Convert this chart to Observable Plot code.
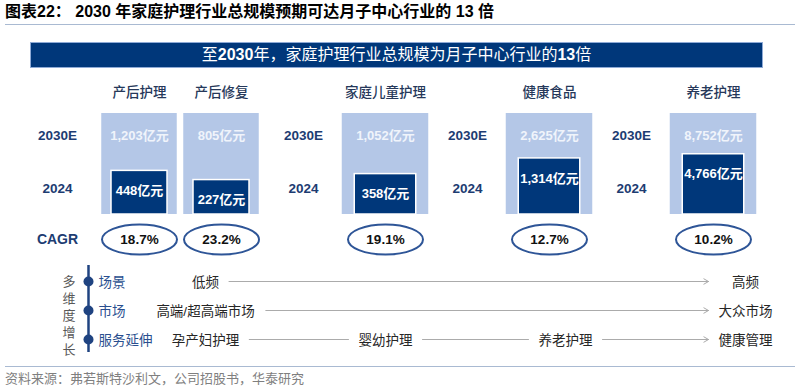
<!DOCTYPE html>
<html><head><meta charset="utf-8">
<script src="https://cdn.jsdelivr.net/npm/d3@7"></script>
<script src="https://cdn.jsdelivr.net/npm/@observablehq/plot@0.6"></script>
<style>
body{margin:0;width:800px;height:392px;overflow:hidden;background:#fff;font-family:"Liberation Sans","Noto Sans CJK SC",sans-serif;position:relative}
#title{position:absolute;left:5px;top:0;width:790px;height:24px;font-size:16px;font-weight:bold;line-height:24px;border-bottom:1.5px solid #a9bad2;color:#000;white-space:nowrap}
#banner{position:absolute;left:30px;top:42px;width:731px;height:24px;background:#00377a;border:1px solid #8eaad6;color:#fff;font-size:16px;line-height:24px;text-align:center;white-space:nowrap}
#banner b{font-weight:bold}
#p1{position:absolute;left:0;top:70px}
#p2{position:absolute;left:0;top:258px}
#cap{position:absolute;left:5px;top:366px;width:790px;border-top:1.5px solid #a9bad2;font-size:13px;color:#7f7f7f;line-height:24px;white-space:nowrap}
</style></head>
<body>
<div id="title">图表22：&nbsp;2030 年家庭护理行业总规模预期可达月子中心行业的 13 倍</div>
<div id="banner">至<b>2030</b>年，家庭护理行业总规模为月子中心行业的<b>13</b>倍</div>
<div id="p1"></div>
<div id="p2"></div>
<div id="cap">资料来源：弗若斯特沙利文，公司招股书，华泰研究</div>
<script>
// ---- data ----
const categories = ["产后护理", "产后修复", "家庭儿童护理", "健康食品", "养老护理"];
const value2030E = [1203, 805, 1052, 2625, 8752];
const value2024 = [448, 227, 358, 1314, 4766];
const cagrPct = [18.7, 23.2, 19.1, 12.7, 10.2];
const yearLabels = ["2030E", "2024"];
const cagrLabel = "CAGR";
const growthTitle = "多维度增长";
const growthDims = ["场景", "市场", "服务延伸"];
const scenePath = ["低频", "高频"];
const marketPath = ["高端/超高端市场", "大众市场"];
const servicePath = ["孕产妇护理", "婴幼护理", "养老护理", "健康管理"];

// ---- styling ----
const NAVY = "#00377a", LIGHT = "#b4c7e7", LABEL = "#1d3c72", RING = "#2e5597", RAIL = "#1f4381";
const FONT = '"Liberation Sans","Noto Sans CJK SC",sans-serif';
const fmt = d3.format(",");

const rows = categories.map((cat, i) => ({
  cat, v2030: value2030E[i], v2024: value2024[i],
  share: value2024[i] / value2030E[i], cagr: cagrPct[i]
}));
// layout slots: a row-label column before each group of boxes
const slots = ["g0", categories[0], categories[1], "g1", categories[2], "g2", categories[3], "g3", categories[4]];
const labelSlots = ["g0", "g1", "g2", "g3"];
const paired = rows.slice(0, 2), single = rows.slice(2);

// ellipse symbol for the CAGR rings
const ellipse = {
  draw(ctx, size) {
    const ry = Math.sqrt(size / Math.PI), rx = ry * 2.5, k = 0.5523;
    ctx.moveTo(rx, 0);
    ctx.bezierCurveTo(rx, ry * k, rx * k, ry, 0, ry);
    ctx.bezierCurveTo(-rx * k, ry, -rx, ry * k, -rx, 0);
    ctx.bezierCurveTo(-rx, -ry * k, -rx * k, -ry, 0, -ry);
    ctx.bezierCurveTo(rx * k, -ry, rx, -ry * k, rx, 0);
    ctx.closePath();
  }
};

const p1 = Plot.plot({
  width: 800, height: 188, margin: 0,
  style: {fontFamily: FONT, fontSize: "13px", overflow: "visible", background: "transparent"},
  x: {type: "band", domain: slots, range: [13.75, 756.25], padding: 0, axis: null},
  y: {type: "pow", exponent: 0.85, domain: [0, 1], range: [144, 43], axis: null},
  marks: [
    Plot.barY(paired, {x: "cat", y1: 0, y2: 1, fill: LIGHT, insetLeft: 3.25, insetRight: 3.25}),
    Plot.barY(single, {x: "cat", y1: 0, y2: 1, fill: LIGHT, insetLeft: -2.25, insetRight: -2.25}),
    Plot.barY(paired, {x: "cat", y1: 0, y2: "share", fill: NAVY, stroke: "white", strokeWidth: 1.5, insetLeft: 13, insetRight: 13}),
    Plot.barY(single, {x: "cat", y1: 0, y2: "share", fill: NAVY, stroke: "white", strokeWidth: 1.5, insetLeft: 10.25, insetRight: 10.25}),
    Plot.text(rows, {x: "cat", frameAnchor: "top", lineAnchor: "middle", dy: 22, text: "cat", fill: "#26385a", fontSize: 13.5, fontWeight: 500}),
    Plot.text(rows, {x: "cat", y: 1, dy: 22, text: d => fmt(d.v2030) + "亿元", fill: "#f0f4fb", fontWeight: "bold", fontSize: 13}),
    Plot.text(rows, {x: "cat", y: "share", dy: 20, text: d => fmt(d.v2024) + "亿元", fill: "white", fontWeight: "bold", fontSize: 13}),
    Plot.text(labelSlots, {x: d => d, y: 1, dy: 22, text: () => yearLabels[0], fill: LABEL, fontWeight: "bold", fontSize: 13.5}),
    Plot.text(labelSlots, {x: d => d, y: 0, dy: -26, text: () => yearLabels[1], fill: LABEL, fontWeight: "bold", fontSize: 13.5}),
    Plot.text([cagrLabel], {x: () => "g0", y: 0, dy: 25, text: d => d, fill: LABEL, fontWeight: "bold", fontSize: 14}),
    Plot.dot(rows, {x: "cat", y: 0, dy: 25, r: 15, symbol: ellipse, fill: "none", stroke: RING, strokeWidth: 2}),
    Plot.text(rows, {x: "cat", y: 0, dy: 25, text: d => d.cagr.toFixed(1) + "%", fill: "#111", fontWeight: "bold", fontSize: 13.5})
  ]
});
document.getElementById("p1").append(p1);

// ---- multi-dimension growth diagram ----
const paths = [[growthDims[0], scenePath], [growthDims[1], marketPath], [growthDims[2], servicePath]];
const maxStage = d3.max(paths, ([, p]) => p.length - 1);
const stages = paths.flatMap(([row, path]) => path.map((label, i) => ({row, label, stage: i * maxStage / (path.length - 1)})));
const FS = 13.5, GAP = 10;
const textW = s => [...s].reduce((a, c) => a + (c === "/" ? 0.45 : 1), 0) * FS;
const endInset = d3.max(paths, ([, p]) => textW(p[p.length - 1]) / 2) + GAP;
const segments = paths.flatMap(([row, path]) => path.slice(1).map((label, j) => {
  const last = j === path.length - 2;
  return {
    row, x1: j * maxStage / (path.length - 1), x2: (j + 1) * maxStage / (path.length - 1), last,
    insetStart: textW(path[j]) / 2 + GAP,
    insetEnd: last ? endInset : textW(label) / 2 + GAP
  };
}));

const p2 = Plot.plot({
  width: 800, height: 106, margin: 0,
  style: {fontFamily: FONT, fontSize: "13px", overflow: "visible", background: "transparent"},
  x: {domain: [0, maxStage], range: [205, 745], axis: null},
  y: {type: "point", domain: growthDims, range: [23, 81], padding: 0, axis: null},
  marks: [
    Plot.ruleX([0], {dx: -117, insetTop: 7, insetBottom: 12, stroke: RAIL, strokeWidth: 2.5}),
    Plot.dot(growthDims, {y: d => d, frameAnchor: "left", dx: 88, r: 5, fill: RAIL}),
    Plot.text(growthDims, {y: d => d, frameAnchor: "left", dx: 98, dy: 1.5, textAnchor: "start", text: d => d, fill: "#2a4f8f", fontSize: FS}),
    Plot.text([[...growthTitle].join("\n")], {frameAnchor: "left", dx: 62, dy: 3, text: d => d, lineHeight: 1.31, fontSize: 13, fill: "#595959"}),
    ...segments.map(s => Plot.arrow([s], {
      x1: "x1", x2: "x2", y1: "row", y2: "row",
      insetStart: s.insetStart, insetEnd: s.insetEnd,
      stroke: "#ababab", strokeWidth: 1, headLength: s.last ? 8 : 0
    })),
    Plot.text(stages, {x: "stage", y: "row", dy: 1.5, text: "label", fill: "#262626", fontSize: FS})
  ]
});
document.getElementById("p2").append(p2);
</script>
</body></html>
